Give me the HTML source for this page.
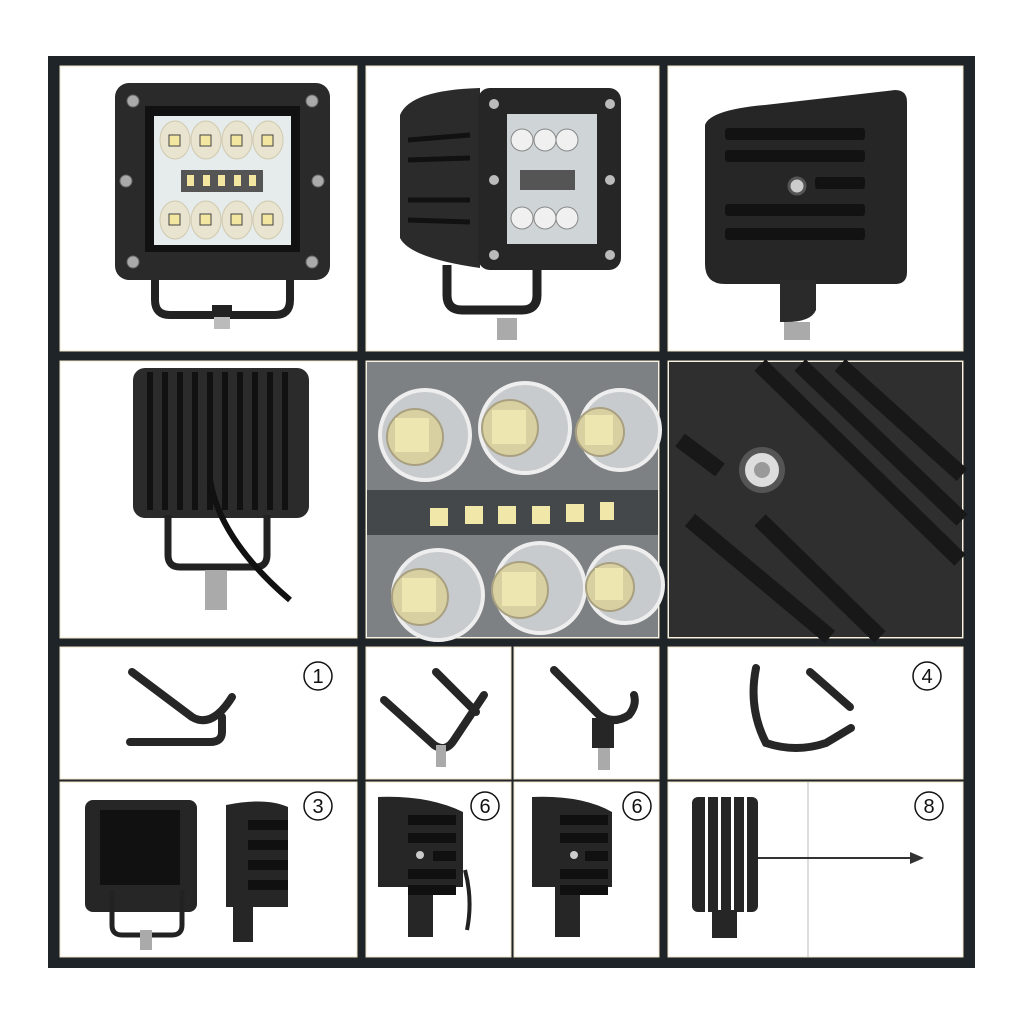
<!DOCTYPE html>
<html><head><style>html,body{margin:0;padding:0;background:#fff}svg{display:block}</style></head>
<body>
<svg width="1024" height="1024" viewBox="0 0 1024 1024" xmlns="http://www.w3.org/2000/svg" font-family="Liberation Sans, sans-serif">
<rect width="1024" height="1024" fill="#fff"/>
<rect x="48" y="56" width="927" height="912" fill="#1e2428"/>
<g fill="#fff" stroke="#efe4c8" stroke-width="1">
<rect x="60" y="66" width="297" height="285"/>
<rect x="366" y="66" width="293" height="285"/>
<rect x="668" y="66" width="295" height="285"/>
<rect x="60" y="361" width="297" height="277"/>
<rect x="366" y="361" width="293" height="277"/>
<rect x="668" y="361" width="295" height="277"/>
<rect x="60" y="647" width="297" height="132"/>
<rect x="366" y="647" width="145" height="132"/>
<rect x="514" y="647" width="145" height="132"/>
<rect x="668" y="647" width="295" height="132"/>
<rect x="60" y="782" width="297" height="175"/>
<rect x="366" y="782" width="145" height="175"/>
<rect x="514" y="782" width="145" height="175"/>
<rect x="668" y="782" width="295" height="175"/>
</g>
<line x1="808" y1="782" x2="808" y2="957" stroke="#bbb" stroke-width="1"/>

<!-- cell 1: front -->
<path d="M155 280 v20 q0 15 15 15 h105 q15 0 15 -15 v-20" fill="none" stroke="#222" stroke-width="8"/>
<rect x="212" y="305" width="20" height="12" fill="#222"/>
<rect x="214" y="317" width="16" height="12" fill="#bbb"/>
<rect x="115" y="83" width="215" height="197" rx="14" fill="#2a2a2a"/>
<rect x="145" y="106" width="155" height="146" fill="#111"/>
<rect x="154" y="116" width="137" height="129" fill="#e6ebec"/>
<g fill="#e8e4cf" stroke="#cfc9ad"><ellipse cx="175" cy="140" rx="15" ry="19"/><ellipse cx="206" cy="140" rx="15" ry="19"/><ellipse cx="237" cy="140" rx="15" ry="19"/><ellipse cx="268" cy="140" rx="15" ry="19"/><ellipse cx="175" cy="220" rx="15" ry="19"/><ellipse cx="206" cy="220" rx="15" ry="19"/><ellipse cx="237" cy="220" rx="15" ry="19"/><ellipse cx="268" cy="220" rx="15" ry="19"/></g>
<g fill="#f3e6a0" stroke="#444"><rect x="169" y="135" width="11" height="11"/><rect x="200" y="135" width="11" height="11"/><rect x="231" y="135" width="11" height="11"/><rect x="262" y="135" width="11" height="11"/><rect x="169" y="214" width="11" height="11"/><rect x="200" y="214" width="11" height="11"/><rect x="231" y="214" width="11" height="11"/><rect x="262" y="214" width="11" height="11"/></g>
<rect x="181" y="170" width="82" height="22" fill="#555"/>
<g fill="#f3e6a0"><rect x="187" y="175" width="7" height="11"/><rect x="203" y="175" width="7" height="11"/><rect x="218" y="175" width="7" height="11"/><rect x="234" y="175" width="7" height="11"/><rect x="249" y="175" width="7" height="11"/></g>
<g fill="#aaa" stroke="#666"><circle cx="133" cy="101" r="6"/><circle cx="312" cy="101" r="6"/><circle cx="133" cy="262" r="6"/><circle cx="312" cy="262" r="6"/><circle cx="126" cy="181" r="6"/><circle cx="318" cy="181" r="6"/></g>

<!-- cell 2: angled -->
<path d="M447 265 v30 q0 15 15 15 h60 q15 0 15 -15 v-30" fill="none" stroke="#222" stroke-width="9"/>
<rect x="497" y="318" width="20" height="22" fill="#aaa"/>
<path d="M400 115 q10 -25 80 -27 v180 q-70 -10 -80 -30 z" fill="#2b2b2b"/>
<g stroke="#111" stroke-width="5"><line x1="408" y1="140" x2="470" y2="135"/><line x1="408" y1="160" x2="470" y2="158"/><line x1="408" y1="200" x2="470" y2="200"/><line x1="408" y1="220" x2="470" y2="222"/></g>
<rect x="478" y="88" width="143" height="182" rx="12" fill="#262626"/>
<rect x="507" y="114" width="90" height="130" fill="#cfd4d6"/>
<g fill="#f0f0f0" stroke="#888"><circle cx="522" cy="140" r="11"/><circle cx="545" cy="140" r="11"/><circle cx="567" cy="140" r="11"/><circle cx="522" cy="218" r="11"/><circle cx="545" cy="218" r="11"/><circle cx="567" cy="218" r="11"/></g>
<rect x="520" y="170" width="55" height="20" fill="#555"/>
<g fill="#bbb"><circle cx="494" cy="104" r="5"/><circle cx="610" cy="104" r="5"/><circle cx="494" cy="180" r="5"/><circle cx="610" cy="180" r="5"/><circle cx="494" cy="255" r="5"/><circle cx="610" cy="255" r="5"/></g>

<!-- cell 3: side -->
<path d="M705 125 q5 -15 60 -20 l130 -15 q12 0 12 12 v170 q0 12 -12 12 h-170 q-20 0 -20 -20 z" fill="#262626"/>
<g fill="#121212"><rect x="725" y="128" width="140" height="12" rx="3"/><rect x="725" y="150" width="140" height="12" rx="3"/><rect x="815" y="177" width="50" height="12" rx="3"/><rect x="725" y="204" width="140" height="12" rx="3"/><rect x="725" y="228" width="140" height="12" rx="3"/></g>
<circle cx="797" cy="186" r="8" fill="#ccc" stroke="#555" stroke-width="3"/>
<path d="M780 280 h36 v30 q-5 12 -30 12 h-6 z" fill="#2a2a2a"/>
<rect x="784" y="322" width="26" height="18" fill="#aaa"/>

<!-- cell 4: back -->
<rect x="133" y="368" width="176" height="150" rx="12" fill="#2b2b2b"/>
<g stroke="#111" stroke-width="6"><line x1="150" y1="372" x2="150" y2="510"/><line x1="165" y1="372" x2="165" y2="510"/><line x1="180" y1="372" x2="180" y2="510"/><line x1="195" y1="372" x2="195" y2="510"/><line x1="210" y1="372" x2="210" y2="510"/><line x1="225" y1="372" x2="225" y2="510"/><line x1="240" y1="372" x2="240" y2="510"/><line x1="255" y1="372" x2="255" y2="510"/><line x1="270" y1="372" x2="270" y2="510"/><line x1="285" y1="372" x2="285" y2="510"/></g>
<path d="M168 515 v40 q0 12 12 12 h75 q12 0 12 -12 v-40" fill="none" stroke="#222" stroke-width="7"/>
<path d="M210 480 q10 60 80 120" fill="none" stroke="#111" stroke-width="6"/>
<rect x="205" y="570" width="22" height="40" fill="#aaa"/>

<!-- cell 5: closeup LEDs -->
<rect x="367" y="362" width="291" height="275" fill="#7d8184"/>
<rect x="367" y="490" width="291" height="45" fill="#45484a"/>
<g fill="#c8cbcd" stroke="#eee" stroke-width="4"><circle cx="425" cy="435" r="45"/><circle cx="525" cy="428" r="45"/><circle cx="620" cy="430" r="40"/><circle cx="438" cy="595" r="45"/><circle cx="540" cy="588" r="45"/><circle cx="625" cy="585" r="38"/></g>
<g fill="#d8d0a0" stroke="#a8a080" stroke-width="2"><circle cx="415" cy="437" r="28"/><circle cx="510" cy="428" r="28"/><circle cx="600" cy="432" r="24"/><circle cx="420" cy="597" r="28"/><circle cx="520" cy="590" r="28"/><circle cx="610" cy="587" r="24"/></g>
<g fill="#eee6b0"><rect x="395" y="418" width="34" height="34"/><rect x="492" y="410" width="34" height="34"/><rect x="585" y="415" width="28" height="30"/><rect x="402" y="578" width="34" height="34"/><rect x="502" y="572" width="34" height="34"/><rect x="595" y="568" width="28" height="32"/></g>
<g fill="#f0e7a8"><rect x="430" y="508" width="18" height="18"/><rect x="465" y="506" width="18" height="18"/><rect x="498" y="506" width="18" height="18"/><rect x="532" y="506" width="18" height="18"/><rect x="566" y="504" width="18" height="18"/><rect x="600" y="502" width="14" height="18"/></g>

<!-- cell 6: closeup fins -->
<rect x="669" y="362" width="293" height="275" fill="#2f2f2f"/>
<g stroke="#181818" stroke-width="16"><line x1="760" y1="365" x2="960" y2="560"/><line x1="800" y1="365" x2="962" y2="520"/><line x1="840" y1="365" x2="962" y2="475"/><line x1="680" y1="440" x2="720" y2="470"/><line x1="690" y1="520" x2="830" y2="637"/><line x1="760" y1="520" x2="880" y2="637"/></g>
<circle cx="762" cy="470" r="20" fill="#ddd" stroke="#555" stroke-width="6"/>
<circle cx="762" cy="470" r="8" fill="#999"/>

<!-- row 3 brackets -->
<g fill="none" stroke="#262626" stroke-width="8" stroke-linecap="round">
<path d="M132 672 l60 45 q20 12 40 -20"/><path d="M130 742 h80 q12 0 12 -10 v-15"/>
<path d="M384 700 l50 45 q12 8 20 -5 l30 -45 M436 672 l40 40"/>
<path d="M554 670 l45 45 q15 10 30 0 q8 -10 5 -20"/>
<path d="M756 668 q-8 40 10 75 q30 10 60 0 l25 -15 M810 672 l40 35"/>
</g>
<rect x="436" y="745" width="10" height="22" fill="#aaa"/>
<rect x="592" y="718" width="22" height="30" fill="#262626"/>
<rect x="598" y="748" width="12" height="22" fill="#aaa"/>

<!-- row 4 -->
<rect x="85" y="800" width="112" height="112" rx="8" fill="#262626"/>
<rect x="100" y="810" width="80" height="75" fill="#111"/>
<path d="M112 890 v35 q0 10 10 10 h50 q10 0 10 -10 v-35" fill="none" stroke="#222" stroke-width="5"/>
<rect x="140" y="930" width="12" height="20" fill="#aaa"/>
<path d="M226 805 q40 -8 62 2 v100 h-35 v35 h-20 v-35 h-7 z" fill="#262626"/>
<g fill="#101010"><rect x="248" y="820" width="40" height="10"/><rect x="248" y="840" width="40" height="10"/><rect x="248" y="860" width="40" height="10"/><rect x="248" y="880" width="40" height="10"/></g>
<path d="M378 797 q50 -2 85 15 v75 h-30 v50 h-25 v-50 h-30 z" fill="#262626"/>
<g fill="#101010"><rect x="408" y="815" width="48" height="10"/><rect x="408" y="833" width="48" height="10"/><rect x="433" y="851" width="23" height="10"/><rect x="408" y="869" width="48" height="10"/><rect x="408" y="885" width="48" height="10"/></g>
<circle cx="420" cy="855" r="4" fill="#ccc"/>
<path d="M465 870 q8 30 2 60" fill="none" stroke="#222" stroke-width="4"/>
<path d="M532 797 q50 -2 80 15 v75 h-32 v50 h-25 v-50 h-23 z" fill="#262626"/>
<g fill="#101010"><rect x="560" y="815" width="48" height="10"/><rect x="560" y="833" width="48" height="10"/><rect x="585" y="851" width="23" height="10"/><rect x="560" y="869" width="48" height="10"/><rect x="560" y="885" width="48" height="10"/></g>
<circle cx="574" cy="855" r="4" fill="#ccc"/>
<rect x="692" y="797" width="66" height="115" rx="6" fill="#262626"/>
<g fill="#fff"><rect x="705" y="797" width="3" height="115"/><rect x="718" y="797" width="3" height="115"/><rect x="731" y="797" width="3" height="115"/><rect x="744" y="797" width="3" height="115"/></g>
<rect x="712" y="910" width="25" height="28" fill="#262626"/>
<line x1="758" y1="858" x2="915" y2="858" stroke="#333" stroke-width="2"/>
<polygon points="924,858 910,852 910,864" fill="#333"/>

<!-- numbers -->
<g fill="none" stroke="#111" stroke-width="1.5"><circle cx="318" cy="676" r="14"/><circle cx="927" cy="676" r="14"/><circle cx="318" cy="806" r="14"/><circle cx="485" cy="806" r="14"/><circle cx="637" cy="806" r="14"/><circle cx="929" cy="806" r="14"/></g>
<g font-size="20" text-anchor="middle" fill="#111"><text x="318" y="683">1</text><text x="927" y="683">4</text><text x="318" y="813">3</text><text x="485" y="813">6</text><text x="637" y="813">6</text><text x="929" y="813">8</text></g>
</svg>
</body></html>
